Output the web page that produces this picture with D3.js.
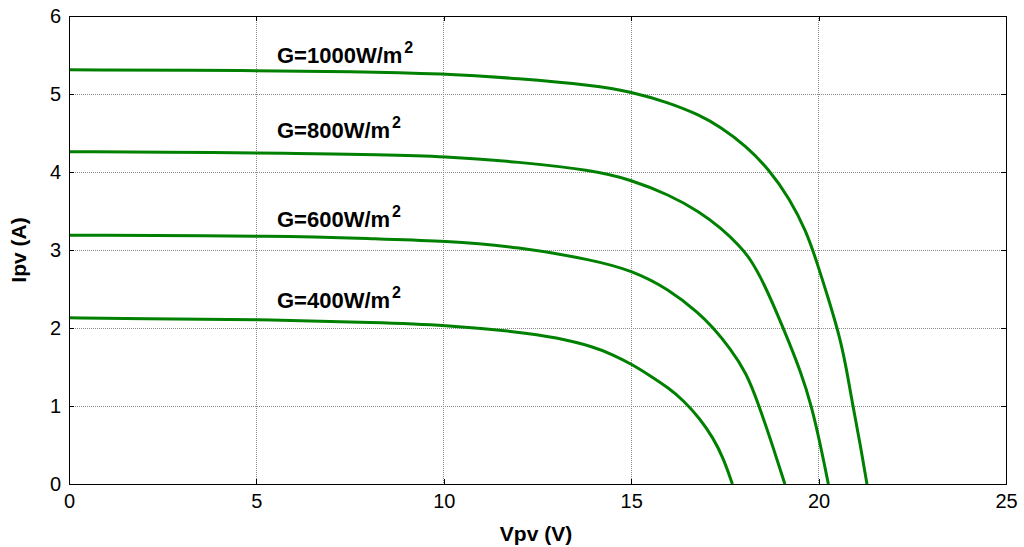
<!DOCTYPE html>
<html lang="en">
<head>
  <title>PV I-V curves</title>
  <meta charset="UTF-8">
  <style>
    body { margin: 0; background: #fff; font-family: "Liberation Sans", Arial, sans-serif; }
    .tick text { font-family: "Liberation Sans", Arial, sans-serif; font-size: 20px; fill: #000; }
    .tick line, .domain { stroke: #000; }
  </style>
  <script src="https://cdn.jsdelivr.net/npm/d3@7"></script>
</head>
<body>
<script>
  // irradiance levels and read-off I-V points [Vpv (V), Ipv (A)]
  var irradiance = ["1000", "800", "600", "400"];

  var curve1000 = [[0, 5.31], [5, 5.30], [7.5, 5.29], [10, 5.26], [12, 5.20], [14, 5.11], [15, 5.03],
    [16, 4.89], [16.83, 4.73], [17.37, 4.58], [18.08, 4.33], [18.66, 4.04], [19.23, 3.66],
    [19.68, 3.23], [19.95, 2.85], [20.26, 2.38], [20.57, 1.88], [20.75, 1.46], [20.9, 1.04],
    [21.1, 0.54], [21.29, 0]];
  var curve800 = [[0, 4.26], [4.2, 4.25], [6, 4.24], [8.3, 4.22], [10, 4.20], [12, 4.13], [14, 4.02],
    [15, 3.90], [16, 3.71], [16.83, 3.49], [17.4, 3.28], [17.9, 3.05], [18.17, 2.89], [18.52, 2.60],
    [19.06, 2.0], [19.55, 1.41], [19.81, 1.0], [20.05, 0.5], [20.26, 0]];
  var curve600 = [[0, 3.19], [5.8, 3.18], [8.3, 3.14], [10, 3.12], [12, 3.04], [14, 2.87], [15, 2.74],
    [16, 2.50], [16.83, 2.18], [17.15, 2.02], [17.63, 1.75], [18.08, 1.42], [18.39, 1.03],
    [18.7, 0.60], [19.1, 0]];
  var curve400 = [[0, 2.13], [1.9, 2.12], [5, 2.11], [8.3, 2.07], [10, 2.04], [12, 1.95], [13, 1.88],
    [14, 1.76], [14.5, 1.66], [15, 1.54], [15.5, 1.39], [16, 1.23], [16.4, 1.07], [16.83, 0.84],
    [17.19, 0.59], [17.46, 0.33], [17.7, 0]];
  var curves = [curve1000, curve800, curve600, curve400];

  // label anchors in data units (left edge, baseline)
  var labelAt = [[5.55, 5.40], [5.55, 4.43], [5.55, 3.30], [5.55, 2.26]];

  var xTicks = [0, 5, 10, 15, 20, 25];
  var yTicks = [0, 1, 2, 3, 4, 5, 6];

  var W = 1024, H = 547;
  var margin = {top: 16, right: 18, bottom: 63, left: 69};
  var w = W - margin.left - margin.right;
  var h = H - margin.top - margin.bottom;

  var x = d3.scaleLinear().domain([0, 25]).range([0, w]);
  var y = d3.scaleLinear().domain([0, 6]).range([h, 0]);

  var svg = d3.select("body").append("svg").attr("width", W).attr("height", H);
  var g = svg.append("g").attr("transform", "translate(" + margin.left + "," + margin.top + ")");

  // dotted grid
  g.append("g").selectAll("line").data(xTicks).enter().append("line")
    .attr("x1", function(d) { return x(d); }).attr("x2", function(d) { return x(d); })
    .attr("y1", 0).attr("y2", h)
    .attr("stroke", "#8a8a8a").attr("stroke-dasharray", "1,1").attr("shape-rendering", "crispEdges");
  g.append("g").selectAll("line").data(yTicks).enter().append("line")
    .attr("y1", function(d) { return y(d); }).attr("y2", function(d) { return y(d); })
    .attr("x1", 0).attr("x2", w)
    .attr("stroke", "#8a8a8a").attr("stroke-dasharray", "1,1").attr("shape-rendering", "crispEdges");

  // curves
  var line = d3.line()
    .x(function(d) { return x(d[0]); })
    .y(function(d) { return y(d[1]); })
    .curve(d3.curveBasis);

  g.selectAll("path.iv").data(curves).enter().append("path")
    .attr("class", "iv")
    .attr("d", line)
    .attr("fill", "none")
    .attr("stroke", "#008000")
    .attr("stroke-width", 3);

  // axes, MATLAB-style box with inward ticks
  g.append("g").attr("transform", "translate(0," + h + ")")
    .call(d3.axisBottom(x).tickValues(xTicks).tickFormat(d3.format("d"))
      .tickSizeInner(-5).tickSizeOuter(0).tickPadding(10));
  g.append("g")
    .call(d3.axisLeft(y).tickValues(yTicks).tickFormat(d3.format("d"))
      .tickSizeInner(-5).tickSizeOuter(0).tickPadding(8));
  g.append("g").attr("transform", "translate(" + w + ",0)")
    .call(d3.axisRight(y).tickValues(yTicks).tickSizeInner(-5).tickSizeOuter(0).tickFormat(""));
  g.append("g")
    .call(d3.axisTop(x).tickValues(xTicks).tickSizeInner(-5).tickSizeOuter(0).tickFormat(""));
  g.selectAll(".domain, .tick line").attr("shape-rendering", "crispEdges");

  // irradiance labels
  var labels = g.selectAll("text.glabel").data(irradiance).enter().append("text")
    .attr("class", "glabel")
    .attr("x", function(d, i) { return x(labelAt[i][0]); })
    .attr("y", function(d, i) { return y(labelAt[i][1]); })
    .style("font-size", "22px")
    .style("font-weight", "bold");
  labels.append("tspan").text(function(d) { return "G=" + d + "W/m"; });
  labels.append("tspan").attr("dy", -10).attr("dx", 2).style("font-size", "16px").text("2");

  // axis titles
  svg.append("text")
    .attr("x", 536).attr("y", 541)
    .style("text-anchor", "middle")
    .style("font-size", "21px")
    .style("font-weight", "bold")
    .text("Vpv (V)");

  svg.append("text")
    .attr("transform", "translate(26," + (margin.top + h / 2) + ")rotate(-90)")
    .style("text-anchor", "middle")
    .style("font-size", "21px")
    .style("font-weight", "bold")
    .text("Ipv (A)");
</script>
</body>
</html>
